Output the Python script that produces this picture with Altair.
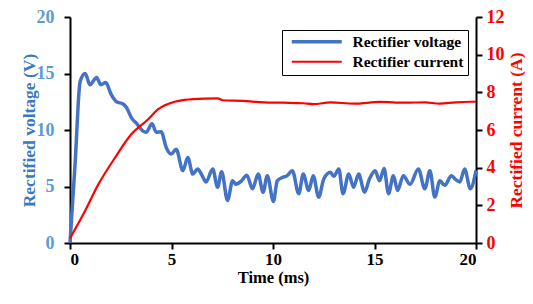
import altair as alt
import pandas as pd

# Rectified voltage (V) vs time (ms)
v_time = [0, 0.25, 0.5, 0.75, 0.98, 1.31, 1.52, 1.76, 2.04, 2.29,
          2.61, 2.78, 3.02, 3.27, 3.6, 3.75, 4.04, 4.25, 4.49, 4.74,
          4.98, 5.23, 5.56, 5.8, 6.05, 6.29, 6.5, 6.7, 7.03, 7.27,
          7.47, 7.76, 8.01, 8.17, 8.45, 8.71, 8.99, 9.27, 9.51, 9.72,
          10.02, 10.21, 10.46, 10.7, 10.95, 11.27, 11.49, 11.76, 11.98, 12.25,
          12.5, 12.83, 13.0, 13.24, 13.45, 13.73, 13.97, 14.22, 14.51, 14.75,
          15.03, 15.25, 15.47, 15.69, 15.93, 16.14, 16.42, 16.75, 17.16, 17.48,
          17.73, 17.97, 18.22, 18.46, 18.79, 19.0, 19.2, 19.44, 19.72, 20.0]
v_value = [0, 7.0, 14.3, 15.0, 14.0, 14.65, 14.0, 14.2, 13.1, 12.5,
           12.3, 12.0, 11.1, 10.6, 9.9, 9.8, 10.55, 9.8, 9.85, 8.45,
           7.87, 8.3, 6.4, 7.57, 6.1, 6.55, 6.0, 5.4, 6.55, 4.94,
           6.3, 3.77, 5.5, 5.2, 5.5, 6.0, 4.8, 6.1, 4.5, 5.96,
           3.68, 5.5, 5.8, 5.96, 6.4, 4.36, 6.1, 4.65, 5.96, 4.06,
           5.67, 6.26, 5.9, 6.55, 4.36, 6.1, 4.94, 6.1, 4.5, 5.67,
           6.4, 5.5, 6.6, 4.36, 5.96, 4.65, 5.96, 5.2, 6.55, 4.8,
           6.4, 4.06, 5.5, 5.1, 5.96, 5.6, 5.4, 6.55, 4.8, 6.4]

# Rectified current (A) vs time (ms)
i_time = [0, 0.74, 1.39, 2.2, 3.02, 3.84, 4.33, 5.15, 5.64, 6.62,
          7.27, 7.52, 8.5, 9.56, 10.5, 11.5, 12.0, 12.83, 14.0, 15.28,
          16.5, 17.5, 18.2, 19.0, 19.7, 20.0]
i_value = [0.25, 1.7, 3.1, 4.5, 5.77, 6.56, 7.09, 7.5, 7.6, 7.67,
           7.68, 7.58, 7.55, 7.47, 7.45, 7.42, 7.37, 7.47, 7.4, 7.49,
           7.45, 7.47, 7.4, 7.47, 7.5, 7.5]

series_names = ["Rectifier voltage", "Rectifier current"]
series_colors = ["#4472C4", "#FF0000"]

x_ticks = [0, 5, 10, 15, 20]
v_ticks = [0, 5, 10, 15, 20]
i_ticks = [0, 2, 4, 6, 8, 10, 12]

df_v = pd.DataFrame({"t": v_time, "val": v_value, "series": series_names[0]})
df_i = pd.DataFrame({"t": i_time, "val": i_value, "series": series_names[1]})

FONT = "Liberation Serif"

x_enc = alt.X("t:Q", scale=alt.Scale(domain=[0, 20], nice=False),
              axis=alt.Axis(values=x_ticks, title="Time (ms)", titleFontSize=16.5,
                            titlePadding=2, labelPadding=2, labelFontSize=17))

color_enc = alt.Color("series:N",
                      scale=alt.Scale(domain=series_names, range=series_colors),
                      legend=alt.Legend(title=None, orient="none", legendX=212, legendY=13,
                                        symbolType="M-1,0H9", symbolSize=100,
                                        symbolStrokeWidth=3.5, symbolOffset=3,
                                        labelFont=FONT, labelFontWeight="bold",
                                        labelFontSize=15.5, labelColor="black",
                                        strokeColor="black", fillColor="white",
                                        padding=4, rowPadding=3, labelOffset=48))
sw_enc = alt.StrokeWidth("series:N",
                         scale=alt.Scale(domain=series_names, range=[3.5, 2.2]),
                         legend=None)

volt = alt.Chart(df_v).mark_line(interpolate="monotone").encode(
    x=x_enc,
    y=alt.Y("val:Q", scale=alt.Scale(domain=[0, 20], nice=False),
            axis=alt.Axis(values=v_ticks, title="Rectified voltage (V)",
                          labelColor="#5B9BD5", titleColor="#3A78C2",
                          titleFontSize=17.5, labelPadding=10, titlePadding=-2)),
    color=color_enc,
    strokeWidth=sw_enc,
)

curr = alt.Chart(df_i).mark_line(interpolate="monotone").encode(
    x=x_enc,
    y=alt.Y("val:Q", scale=alt.Scale(domain=[0, 12], nice=False),
            axis=alt.Axis(values=i_ticks, orient="right", title="Rectified current (A)",
                          labelColor="#FF0000", titleColor="#FF0000",
                          titleFontSize=17.5, titleAngle=270, titleBaseline="top",
                          labelPadding=4, titlePadding=3)),
    color=color_enc,
    strokeWidth=sw_enc,
)

chart = alt.layer(volt, curr).resolve_scale(y="independent").properties(
    width=406, height=226,
    autosize=alt.AutoSizeParams(type="none"),
    padding={"left": 62, "top": 9, "right": 49, "bottom": 45},
).configure_view(stroke=None).configure_axis(
    grid=False, domainColor="black", domainWidth=2, tickColor="black",
    tickWidth=2, tickSize=6, labelFont=FONT, labelFontWeight="bold",
    labelFontSize=18, labelColor="black", titleFont=FONT, titleFontWeight="bold",
    titleColor="black",
)

chart.save("out.html", embed_options={"renderer": "svg", "actions": False})
